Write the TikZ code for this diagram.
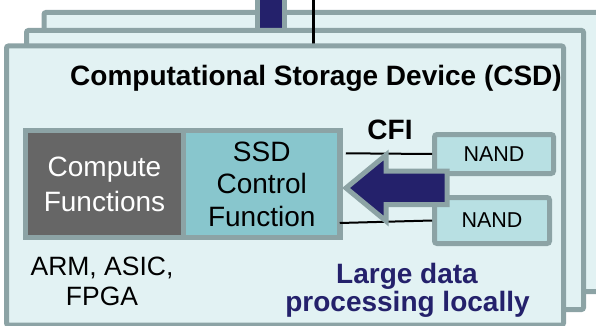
\documentclass[tikz,border=0pt]{standalone}
\usepackage{fontspec}
\setmainfont{Liberation Sans}
\usetikzlibrary{calc}
\definecolor{cardfill}{HTML}{E2F2F3}
\definecolor{edge}{HTML}{8CA3A5}
\definecolor{navy}{HTML}{24216B}
\definecolor{darkbox}{HTML}{666666}
\definecolor{ssdfill}{HTML}{88C6CD}
\definecolor{nandfill}{HTML}{B8E0E3}
\begin{document}
\begin{tikzpicture}[x=1pt,y=-1pt,
  card/.style={draw=edge,fill=cardfill,line width=5pt,rounded corners=2pt,inner sep=0pt,
    minimum width=557pt,minimum height=279pt},
  funcbox/.style={draw=edge,line width=5.5pt,inner sep=0pt,align=center,minimum height=107pt},
  nandbox/.style={draw=edge,fill=nandfill,line width=5pt,rounded corners=2.5pt,inner sep=0pt,
    font=\fontsize{21.5}{25}\selectfont},
  lbl/.style={inner sep=0pt,anchor=base},
  bigb/.style={font=\fontsize{28}{33}\selectfont\bfseries},
  wire/.style={draw=black,line width=2pt}]
\useasboundingbox (0,0) rectangle (596,326);
\clip (0,0) rectangle (596,326);

% stacked device cards
\node[card] (back) at (322.5,152) {};
\node[fill=navy,draw=edge,line width=5pt,inner sep=0pt,minimum width=27pt,minimum height=40pt] (bar) at (271,12) {};
\node[card] (middle) at (305,170) {};
\coordinate (hostline) at (313.5,-2);
\draw[line width=3pt] (hostline) -- (hostline |- 0,47);
\node[card] (front) at (285,185.5) {};

% function boxes
\node[funcbox,fill=darkbox,text=white,minimum width=158pt,font=\fontsize{28}{35}\selectfont] (compute) at (104.5,184) {Compute\\Functions};
\node[funcbox,fill=ssdfill,minimum width=156.5pt,font=\fontsize{28}{32.5}\selectfont] (ssd) at (261.75,184) {SSD\\Control\\Function};

% NAND boxes
\node[nandbox,minimum width=119pt,minimum height=39pt] (nand1) at (494,154) {NAND};
\node[nandbox,minimum width=115pt,minimum height=46pt] (nand2) at (492,220.5) {NAND};

% CFI links
\draw[wire] ($(ssd.east)+(3,-30.7)$) -- (nand1.west);
\draw[wire] ($(ssd.east)+(-3,39)$) -- (nand2.west);

% data arrow
\draw[draw=edge,fill=navy,line width=5pt,miter limit=10]
  (346,188) -- (386,155) -- (386,171) -- (447,171) -- (447,204.5) -- (386,204.5) -- (386,221) -- cycle;

% labels
\node[lbl,bigb] (title) at (316,85) {Computational Storage Device (CSD)};
\node[lbl,bigb] (cfi) at (390,139) {CFI};
\node[lbl,font=\fontsize{26.5}{30}\selectfont] (arm1) at (102,275) {ARM, ASIC,};
\node[lbl,font=\fontsize{26.5}{30}\selectfont] (arm2) at (102,305) {FPGA};
\node[lbl,bigb,text=navy] (large1) at (407,283) {Large data};
\node[lbl,bigb,text=navy] (large2) at (407.5,311) {processing locally};
\end{tikzpicture}
\end{document}
